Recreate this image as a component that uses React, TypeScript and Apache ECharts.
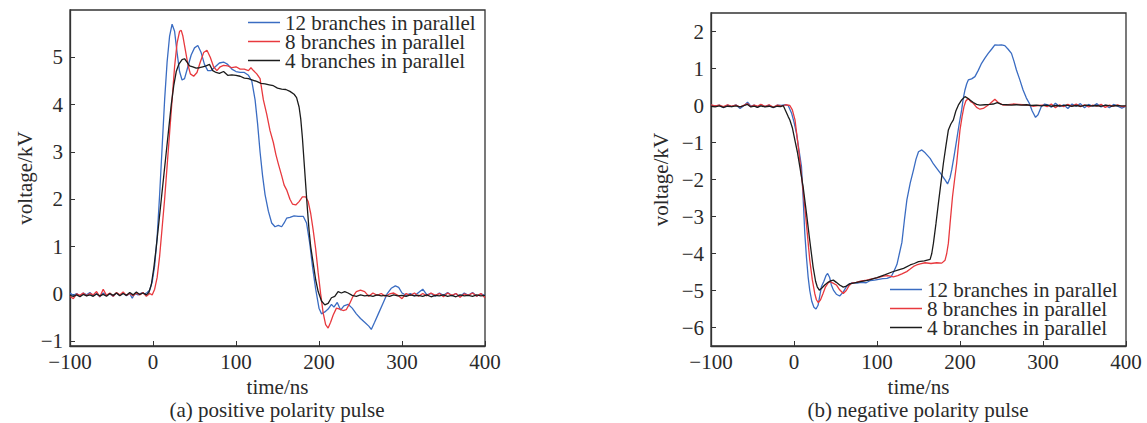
import React, { useEffect, useRef } from "react";
import * as echarts from "echarts";

// ---------- data (time in ns, voltage in kV) ----------
const xTicks = [-100, 0, 100, 200, 300, 400];
const posYTicks = [-1, 0, 1, 2, 3, 4, 5];
const negYTicks = [-6, -5, -4, -3, -2, -1, 0, 1, 2];
const seriesNames = ["12 branches in parallel", "8 branches in parallel", "4 branches in parallel"];

const pos12: [number, number][] = [
  [-100, 0.02], [-96, -0.03], [-92, 0.01], [-88, -0.05], [-84, 0.02], [-80, -0.02], [-76, 0.03], [-72, -0.04],
  [-68, 0.01], [-64, -0.06], [-60, 0.02], [-56, -0.03], [-52, 0.0], [-48, -0.05], [-44, 0.02], [-40, -0.03],
  [-36, 0.02], [-32, -0.04], [-28, 0.01], [-25, -0.09], [-22, 0.01], [-18, -0.02], [-14, 0.02], [-10, 0.0],
  [-7, 0.03], [-4, 0.08], [-1, 0.25], [2, 0.6], [5, 1.2], [8, 2.1], [11, 3.1], [14, 4.1], [17, 4.9], [20, 5.45],
  [23, 5.7], [26, 5.55], [29, 5.1], [32, 4.7], [35, 4.52], [38, 4.55], [42, 4.8], [46, 5.05], [50, 5.2], [54, 5.25],
  [58, 5.1], [62, 4.85], [66, 4.72], [70, 4.72], [75, 4.8], [80, 4.88], [85, 4.9], [90, 4.85], [95, 4.75],
  [100, 4.7], [105, 4.68], [110, 4.68], [115, 4.62], [119, 4.5], [123, 4.1], [126, 3.6], [129, 3.0], [132, 2.5],
  [135, 2.1], [139, 1.75], [143, 1.5], [147, 1.42], [151, 1.45], [155, 1.42], [158, 1.5], [161, 1.6], [165, 1.62],
  [170, 1.65], [175, 1.64], [181, 1.64], [185, 1.5], [189, 1.05], [192, 0.6], [196, 0.1], [200, -0.3], [203, -0.42],
  [207, -0.38], [211, -0.32], [215, -0.22], [218, -0.28], [222, -0.18], [226, -0.34], [230, -0.25], [235, -0.22],
  [240, -0.3], [245, -0.42], [250, -0.52], [255, -0.6], [260, -0.68], [263, -0.75], [267, -0.6], [272, -0.4],
  [277, -0.2], [282, 0.0], [287, 0.12], [292, 0.17], [296, 0.14], [300, 0.02], [305, -0.03], [310, 0.01],
  [315, -0.04], [320, 0.03], [325, 0.1], [330, -0.02], [335, 0.01], [340, -0.05], [345, 0.02], [350, -0.03],
  [355, 0.03], [360, -0.04], [365, 0.01], [370, -0.06], [375, 0.02], [380, -0.03], [385, 0.03], [390, -0.05],
  [395, 0.0], [400, -0.03],
];

const pos8: [number, number][] = [
  [-100, -0.05], [-96, -0.1], [-92, 0.0], [-88, -0.03], [-84, 0.02], [-80, -0.04], [-76, 0.01], [-72, -0.02],
  [-68, 0.05], [-64, -0.06], [-60, 0.1], [-56, -0.03], [-52, 0.02], [-48, -0.05], [-44, 0.03], [-40, -0.02],
  [-36, 0.04], [-32, -0.03], [-28, 0.01], [-24, -0.04], [-20, 0.02], [-16, -0.02], [-12, 0.03], [-8, -0.05],
  [-4, 0.01], [-1, -0.02], [2, 0.1], [5, 0.35], [8, 0.8], [11, 1.4], [14, 2.0], [17, 2.7], [20, 3.4], [23, 4.1],
  [26, 4.8], [29, 5.3], [32, 5.55], [34, 5.57], [36, 5.45], [39, 5.15], [42, 4.85], [45, 4.65], [49, 4.6],
  [53, 4.68], [57, 4.9], [61, 5.1], [65, 5.15], [69, 5.0], [73, 4.8], [77, 4.72], [81, 4.8], [85, 4.83],
  [90, 4.82], [95, 4.78], [100, 4.8], [105, 4.75], [110, 4.75], [115, 4.72], [118, 4.78], [121, 4.72],
  [125, 4.65], [129, 4.55], [133, 4.1], [137, 3.8], [141, 3.45], [145, 3.2], [148, 2.95], [151, 2.75],
  [155, 2.5], [158, 2.3], [161, 2.2], [165, 2.0], [168, 1.9], [172, 1.88], [176, 1.95], [180, 2.05], [184, 2.05],
  [187, 1.95], [190, 1.7], [193, 1.35], [196, 0.95], [199, 0.45], [202, 0.0], [205, -0.4], [208, -0.65],
  [211, -0.72], [214, -0.6], [217, -0.45], [221, -0.3], [225, -0.32], [229, -0.35], [233, -0.33], [237, -0.2],
  [241, -0.05], [245, 0.05], [250, 0.08], [255, 0.05], [260, -0.05], [265, 0.02], [270, -0.03], [275, 0.01],
  [280, -0.05], [285, 0.0], [290, 0.02], [295, -0.03], [300, -0.1], [305, 0.01], [310, -0.03], [315, 0.02],
  [320, -0.05], [325, 0.01], [330, -0.04], [335, 0.02], [340, -0.03], [345, 0.01], [350, -0.06], [355, 0.02],
  [360, -0.03], [365, 0.01], [370, -0.07], [375, 0.0], [380, -0.03], [385, 0.02], [390, -0.05], [395, 0.01],
  [400, -0.08],
];

const pos4: [number, number][] = [
  [-100, -0.03], [-96, -0.05], [-92, -0.02], [-88, -0.06], [-84, -0.01], [-80, -0.04], [-76, -0.02],
  [-72, -0.05], [-68, 0.0], [-64, -0.04], [-60, -0.01], [-56, -0.05], [-52, 0.01], [-48, -0.03], [-44, 0.02],
  [-40, -0.04], [-36, 0.01], [-32, -0.03], [-28, 0.03], [-24, -0.02], [-20, 0.04], [-16, -0.01], [-12, 0.02],
  [-8, -0.02], [-5, 0.03], [-2, 0.2], [1, 0.55], [4, 1.0], [7, 1.5], [10, 2.0], [13, 2.5], [16, 3.0], [19, 3.5],
  [22, 4.0], [25, 4.4], [28, 4.7], [31, 4.85], [35, 4.95], [38, 4.97], [41, 4.9], [44, 4.82], [48, 4.8],
  [52, 4.77], [56, 4.78], [60, 4.8], [64, 4.82], [68, 4.85], [72, 4.72], [76, 4.68], [80, 4.66], [85, 4.7],
  [90, 4.62], [95, 4.63], [100, 4.62], [105, 4.6], [110, 4.56], [115, 4.55], [120, 4.52], [125, 4.49],
  [130, 4.45], [135, 4.44], [140, 4.42], [145, 4.4], [150, 4.35], [155, 4.33], [160, 4.32], [165, 4.28],
  [170, 4.22], [173, 4.15], [176, 3.95], [178, 3.7], [180, 3.3], [182, 2.8], [184, 2.3], [186, 1.8], [188, 1.35],
  [190, 1.0], [193, 0.65], [196, 0.3], [199, 0.05], [203, -0.15], [207, -0.23], [211, -0.2], [215, -0.08],
  [219, -0.05], [223, 0.05], [227, 0.02], [231, 0.05], [235, 0.02], [240, -0.03], [245, -0.05], [250, -0.02],
  [255, -0.04], [260, -0.03], [265, -0.05], [270, -0.02], [275, -0.04], [280, -0.03], [285, -0.05], [290, -0.02],
  [295, -0.04], [300, -0.03], [305, -0.05], [310, -0.02], [315, -0.04], [320, -0.03], [325, -0.05], [330, -0.02],
  [335, -0.06], [340, -0.03], [345, -0.04], [350, -0.02], [355, -0.05], [360, -0.03], [365, -0.06], [370, -0.02],
  [375, -0.04], [380, -0.03], [385, -0.05], [390, -0.02], [395, -0.04], [400, -0.03],
];

const neg12: [number, number][] = [
  [-100, 0.0], [-95, -0.02], [-90, 0.01], [-85, -0.06], [-80, 0.01], [-75, -0.03], [-70, 0.02], [-65, -0.08],
  [-60, 0.0], [-56, 0.09], [-52, -0.02], [-48, 0.01], [-44, -0.05], [-40, 0.02], [-35, -0.03], [-30, 0.01],
  [-25, -0.06], [-20, 0.01], [-15, 0.0], [-10, 0.02], [-7, 0.0], [-3, -0.2], [0, -0.45], [3, -0.75], [6, -1.2],
  [9, -1.65], [11, -2.5], [13, -3.45], [15, -4.1], [17, -4.63], [19, -5.0], [21.5, -5.3], [24, -5.45],
  [26.5, -5.5], [29, -5.4], [31, -5.15], [33, -4.9], [36, -4.75], [38.5, -4.6], [40.5, -4.54], [43, -4.65],
  [45, -4.85], [47.5, -4.99], [51, -5.1], [55, -5.15], [59, -5.05], [63, -4.9], [67, -4.82], [71, -4.79],
  [76, -4.8], [81, -4.78], [87, -4.79], [92, -4.73], [97, -4.72], [102, -4.7], [107, -4.68], [112, -4.67],
  [117, -4.63], [120, -4.5], [124, -4.3], [127, -4.0], [130, -3.7], [133, -3.1], [136, -2.55], [140, -2.1],
  [144, -1.74], [147, -1.45], [150, -1.25], [154, -1.2], [158, -1.28], [164, -1.43], [168, -1.58], [172, -1.7],
  [177, -1.85], [182, -2.01], [185, -2.12], [188, -1.95], [190, -1.74], [193, -1.35], [196, -0.93], [199, -0.5],
  [202, -0.12], [204, 0.2], [206, 0.42], [208, 0.58], [210, 0.69], [214, 0.72], [218, 0.78], [222, 0.95],
  [226, 1.14], [230, 1.28], [234, 1.41], [238, 1.52], [242, 1.64], [246, 1.63], [250, 1.64], [254, 1.62],
  [258, 1.52], [262, 1.41], [265, 1.2], [268, 0.96], [272, 0.7], [276, 0.42], [280, 0.2], [283.5, 0.06],
  [287, -0.15], [291, -0.32], [294, -0.25], [298, -0.03], [302, 0.04], [306, 0.02], [310, -0.05], [315, 0.06],
  [320, -0.03], [325, 0.02], [330, -0.08], [335, 0.04], [340, -0.02], [345, 0.05], [350, -0.06], [355, 0.03],
  [360, -0.02], [365, 0.05], [370, -0.04], [375, 0.01], [380, -0.06], [385, 0.03], [390, -0.02], [395, -0.07],
  [400, -0.02],
];

const neg8: [number, number][] = [
  [-100, 0.02], [-95, -0.01], [-90, 0.01], [-85, -0.03], [-80, 0.02], [-75, -0.02], [-70, 0.01], [-65, -0.04],
  [-60, 0.01], [-56, 0.05], [-52, -0.03], [-48, 0.01], [-44, -0.02], [-40, 0.03], [-35, -0.02], [-30, 0.02],
  [-25, -0.04], [-20, 0.01], [-15, -0.02], [-10, 0.02], [-5, 0.0], [-2, -0.12], [1.2, -0.39], [4, -0.9],
  [7, -1.47], [10, -2.1], [13, -2.74], [16, -3.45], [19, -4.18], [22, -4.7], [25, -5.08], [27, -5.25],
  [29.3, -5.33], [32, -5.25], [35, -5.08], [38, -4.9], [41, -4.8], [43.4, -4.76], [47, -4.8], [51, -4.85],
  [55, -4.98], [59.4, -5.08], [63, -5.0], [66, -4.88], [69.5, -4.8], [75, -4.78], [80, -4.75], [87.6, -4.72],
  [95, -4.68], [100, -4.66], [107.6, -4.61], [113, -4.6], [119.6, -4.63], [125, -4.6], [130, -4.55],
  [135.8, -4.49], [140, -4.42], [144, -4.35], [147.8, -4.31], [152, -4.28], [158, -4.25], [165, -4.27],
  [172, -4.25], [178, -4.26], [182, -4.18], [184, -4.0], [186, -3.72], [188, -3.2], [191, -2.46], [193.5, -2.0],
  [196, -1.56], [198, -1.1], [200, -0.66], [202.5, -0.3], [204.8, -0.03], [207, 0.12], [210, 0.19], [213, 0.1],
  [216, 0.06], [220, -0.05], [224, -0.1], [228, -0.08], [232, -0.02], [236, 0.05], [242, 0.17], [246, 0.08],
  [252, 0.01], [258, 0.02], [264, 0.04], [270, 0.03], [276, 0.02], [282, 0.01], [288, -0.02], [294, 0.0],
  [300, 0.01], [305, -0.03], [310, 0.04], [315, -0.06], [320, 0.02], [325, -0.03], [330, 0.03], [335, -0.02],
  [340, 0.04], [345, -0.03], [350, 0.02], [355, -0.04], [360, 0.01], [365, -0.02], [370, 0.03], [375, -0.05],
  [380, 0.01], [385, -0.02], [390, 0.02], [395, -0.03], [400, -0.02],
];

const neg4: [number, number][] = [
  [-100, -0.02], [-95, -0.04], [-90, -0.01], [-85, -0.05], [-80, -0.02], [-75, -0.03], [-70, -0.01],
  [-65, -0.04], [-60, 0.0], [-56, 0.03], [-52, -0.04], [-48, -0.02], [-44, -0.05], [-40, -0.01], [-35, -0.04],
  [-30, -0.02], [-25, -0.05], [-20, -0.02], [-16, -0.03], [-13, 0.0], [-10, -0.15], [-7, -0.3], [-5, -0.39],
  [-2, -0.6], [1, -0.93], [4, -1.25], [7, -1.65], [11, -2.2], [15, -2.91], [19, -3.65], [23, -4.36], [26, -4.75],
  [28, -4.9], [30.5, -4.99], [33.3, -4.94], [37, -4.85], [41, -4.78], [44, -4.74], [47.4, -4.72], [51, -4.78],
  [55, -4.85], [59.4, -4.91], [63, -4.88], [67, -4.82], [71.5, -4.8], [80, -4.76], [90, -4.72], [100, -4.65],
  [110, -4.57], [118, -4.5], [125, -4.45], [132, -4.4], [140, -4.31], [145, -4.27], [150, -4.22], [157, -4.2],
  [164, -4.16], [166, -4.0], [168, -3.72], [171, -3.2], [174, -2.64], [177, -2.1], [180, -1.56], [183, -1.1],
  [186, -0.66], [189, -0.5], [192, -0.39], [195, -0.15], [198, 0.01], [202, 0.15], [206, 0.24], [209, 0.2],
  [212, 0.15], [216, 0.08], [220, 0.03], [224, 0.01], [230, 0.02], [236, 0.03], [240, 0.04], [245, 0.08],
  [250, 0.03], [256, 0.02], [262, 0.01], [268, 0.02], [274, 0.01], [280, 0.02], [286, 0.0], [292, 0.01],
  [298, -0.01], [304, 0.01], [310, -0.02], [316, 0.0], [322, -0.01], [328, 0.01], [334, -0.02], [340, 0.0],
  [346, -0.02], [352, 0.01], [358, -0.01], [364, 0.0], [370, -0.02], [376, 0.01], [382, -0.02], [388, 0.0],
  [394, -0.01], [400, -0.01],
];

const colors = ["#3a6cc2", "#e8393e", "#1c1c1c"];

const FONT = "'Liberation Serif', 'Times New Roman', serif";
const TEXT = "#2a2a2a";
const FS = 21;

const minus = (v: number) => String(v).replace("-", "\u2212");

function makeXAxis(gridIndex: number) {
  return {
    type: "value",
    gridIndex,
    min: -100,
    max: 400,
    interval: 100,
    name: "time/ns",
    nameLocation: "middle",
    nameGap: 26,
    nameTextStyle: { fontFamily: FONT, fontSize: FS, color: TEXT },
    axisLine: { show: true, onZero: false, lineStyle: { color: "#333", width: 1.3 } },
    axisTick: { show: true, inside: true, length: 5, lineStyle: { color: "#333" }, customValues: xTicks },
    axisLabel: {
      fontFamily: FONT, fontSize: FS, color: TEXT, margin: 5,
      customValues: xTicks, formatter: (v: number) => minus(v),
    },
    splitLine: { show: false },
  };
}

function makeYAxis(gridIndex: number, min: number, max: number, ticks: number[], gap: number) {
  return {
    type: "value",
    gridIndex,
    min,
    max,
    name: "voltage/kV",
    nameLocation: "middle",
    nameGap: gap,
    nameRotate: 90,
    nameTextStyle: { fontFamily: FONT, fontSize: FS, color: TEXT },
    axisLine: { show: true, onZero: false, lineStyle: { color: "#333", width: 1.3 } },
    axisTick: { show: true, inside: true, length: 5, lineStyle: { color: "#333" }, customValues: ticks },
    axisLabel: {
      fontFamily: FONT, fontSize: FS, color: TEXT, margin: 7,
      customValues: ticks, formatter: (v: number) => minus(v),
    },
    splitLine: { show: false },
  };
}

function lineSeries(name: string, data: [number, number][], color: string, idx: number) {
  return {
    type: "line",
    name,
    data,
    xAxisIndex: idx,
    yAxisIndex: idx,
    symbol: "none",
    showSymbol: false,
    smooth: false,
    lineStyle: { color, width: 1.3 },
    itemStyle: { color },
    z: 3,
  };
}

export default function App() {
  const ref = useRef<HTMLDivElement>(null);
  useEffect(() => {
    document.body.style.margin = "0";
    if (!ref.current) return;
    const chart = echarts.init(ref.current, null, { renderer: "svg" });
    const legendCommon = {
      orient: "vertical",
      icon: "rect",
      itemWidth: 32,
      itemHeight: 1.5,
      itemGap: -2,
      selectedMode: false,
      textStyle: { fontFamily: FONT, fontSize: FS, color: TEXT },
    };
    chart.setOption({
      animation: false,
      backgroundColor: "#ffffff",
      grid: [
        { left: 70, top: 10, width: 415, height: 336, show: true, borderColor: "#333", borderWidth: 1.3 },
        { left: 711, top: 13, width: 415, height: 333, show: true, borderColor: "#333", borderWidth: 1.3 },
      ],
      xAxis: [makeXAxis(0), makeXAxis(1)],
      yAxis: [makeYAxis(0, -1.1, 6, posYTicks, 35), makeYAxis(1, -6.5, 2.5, negYTicks, 40)],
      legend: [
        { ...legendCommon, left: 243, top: 7, data: seriesNames.map((n) => n + " ") },
        { ...legendCommon, left: 885, top: 274, data: seriesNames },
      ],
      graphic: [
        {
          type: "text", x: 277, y: 399,
          style: { text: "(a) positive polarity pulse", font: `${FS}px ${FONT}`, fill: TEXT, textAlign: "center" },
        },
        {
          type: "text", x: 918, y: 399,
          style: { text: "(b) negative polarity pulse", font: `${FS}px ${FONT}`, fill: TEXT, textAlign: "center" },
        },
      ],
      series: [
        lineSeries(seriesNames[0] + " ", pos12, colors[0], 0),
        lineSeries(seriesNames[1] + " ", pos8, colors[1], 0),
        lineSeries(seriesNames[2] + " ", pos4, colors[2], 0),
        lineSeries(seriesNames[0], neg12, colors[0], 1),
        lineSeries(seriesNames[1], neg8, colors[1], 1),
        lineSeries(seriesNames[2], neg4, colors[2], 1),
      ],
    });
    return () => chart.dispose();
  }, []);
  return <div ref={ref} style={{ width: 1147, height: 423 }} />;
}
